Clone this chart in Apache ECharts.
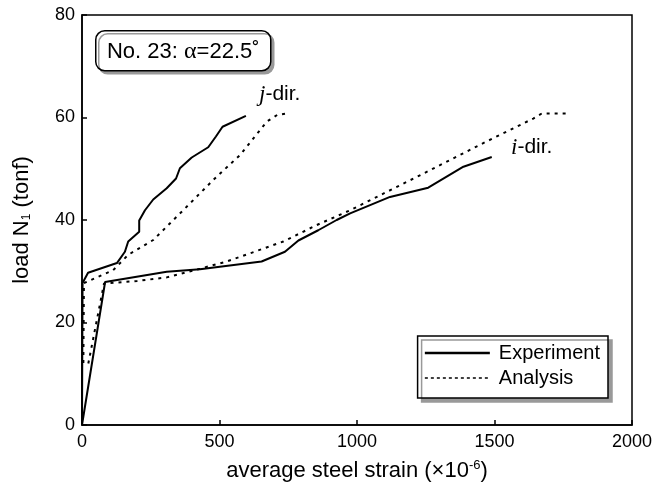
<!DOCTYPE html>
<html>
<head>
<meta charset="utf-8">
<script src="https://cdn.jsdelivr.net/npm/echarts@6/dist/echarts.min.js"></script>
<style>
  html, body { margin: 0; padding: 0; background: #fff; }
  #chart { width: 668px; height: 491px; }
</style>
</head>
<body>
<div id="chart"></div>
<script>
// Load vs. average steel strain, specimen No. 23 (alpha = 22.5 deg)
const xTicks = [0, 500, 1000, 1500, 2000];
const yTicks = [0, 20, 40, 60, 80];

// j-direction, experiment
const expJStrain = [0, 2, 22, 127, 156, 168, 208, 208, 229, 259, 308, 342, 356, 399, 459, 487, 511, 596];
const expJLoad   = [0, 27.7, 29.7, 31.6, 33.8, 35.8, 37.7, 39.9, 41.9, 44.0, 46.2, 48.1, 50.1, 52.2, 54.2, 56.3, 58.2, 60.3];

// j-direction, analysis
const anaJStrain = [5, 7, 113, 168, 259, 368, 477, 575, 672, 710, 745];
const anaJLoad   = [12.1, 27.7, 30.2, 33.2, 36.1, 41.9, 47.8, 52.7, 59.2, 60.5, 60.8];

// i-direction, experiment
const expIStrain = [0, 84, 308, 429, 653, 738, 787, 859, 926, 975, 1120, 1259, 1387, 1490];
const expILoad   = [0, 27.9, 29.9, 30.4, 31.9, 33.8, 36.0, 38.0, 40.0, 41.3, 44.5, 46.3, 50.4, 52.3];

// i-direction, analysis
const anaIStrain = [23, 80, 200, 308, 429, 526, 611, 732, 853, 975, 1217, 1459, 1641, 1672, 1770];
const anaILoad   = [12.0, 27.6, 28.1, 28.8, 30.5, 31.9, 33.5, 35.8, 39.0, 41.9, 48.4, 55.0, 59.8, 60.8, 60.8];

const pairs = (xs, ys) => xs.map((x, i) => [x, ys[i]]);

const FONT = 'Liberation Sans, Arial, Helvetica, sans-serif';
const SERIF = 'Liberation Serif, Times New Roman, serif';
const solidStyle = { color: '#000', width: 2, type: 'solid' };
const dotStyle = { color: '#000', width: 2, type: [3, 5] };

const chart = echarts.init(document.getElementById('chart'), null, { renderer: 'canvas' });

function lineSeries(name, xs, ys, style) {
  return {
    name: name,
    type: 'line',
    data: pairs(xs, ys),
    showSymbol: false,
    symbol: 'none',
    lineStyle: style,
    itemStyle: { color: '#000' },
    animation: false,
    z: 3
  };
}

chart.setOption({
  animation: false,
  backgroundColor: '#fff',
  grid: {
    left: 82, right: 36, top: 15, bottom: 66,
    show: true, borderColor: '#000', borderWidth: 1.5, backgroundColor: 'transparent'
  },
  xAxis: {
    type: 'value',
    min: xTicks[0], max: xTicks[xTicks.length - 1], interval: 500,
    name: 'average steel strain (×10{sup|-6})',
    nameLocation: 'middle', nameGap: 34,
    nameTextStyle: {
      fontFamily: FONT, fontSize: 22, color: '#000',
      rich: { sup: { fontFamily: FONT, fontSize: 13, color: '#000', verticalAlign: 'top', padding: [0, 0, 10, 0] } }
    },
    axisLine: { show: true, lineStyle: { color: '#000', width: 1.5 } },
    axisTick: { show: true, inside: true, length: 5, lineStyle: { color: '#000', width: 1.5 } },
    axisLabel: { fontFamily: FONT, fontSize: 18, color: '#000', margin: 8, formatter: v => String(v) },
    splitLine: { show: false }
  },
  yAxis: {
    type: 'value',
    min: yTicks[0], max: yTicks[yTicks.length - 1], interval: 20,
    name: 'load N{sub|1} (tonf)',
    nameLocation: 'middle', nameGap: 49, nameRotate: 90,
    nameTextStyle: {
      fontFamily: FONT, fontSize: 22, color: '#000',
      rich: { sub: { fontFamily: FONT, fontSize: 12, color: '#000', verticalAlign: 'bottom', padding: [8, 0, 0, 0] } }
    },
    axisLine: { show: true, lineStyle: { color: '#000', width: 1.5 } },
    axisTick: { show: true, inside: true, length: 5, lineStyle: { color: '#000', width: 1.5 } },
    axisLabel: { fontFamily: FONT, fontSize: 18, color: '#000', margin: 7, formatter: v => String(v) },
    splitLine: { show: false }
  },
  legend: {
    right: 60, top: 336,
    orient: 'vertical',
    data: [
      { name: 'Experiment', itemStyle: { opacity: 0 },
        lineStyle: { color: '#000', width: 2.5, type: 'solid', opacity: 1 } },
      { name: 'Analysis', itemStyle: { opacity: 0 },
        lineStyle: { color: '#000', width: 1.3, type: [3, 3], opacity: 1 } }
    ],
    itemWidth: 65, itemHeight: 14, itemGap: 5,
    padding: [7, 8, 10, 6],
    backgroundColor: '#fff',
    borderColor: '#000', borderWidth: 1.5, borderRadius: 0,
    shadowColor: '#999', shadowOffsetX: 4, shadowOffsetY: 4, shadowBlur: 0,
    textStyle: { fontFamily: FONT, fontSize: 20, lineHeight: 20, color: '#000', padding: [0, 0, 0, 4] },
    selectedMode: false
  },
  graphic: [
    {
      type: 'group', left: 95, top: 30, z: 10,
      children: [
        {
          type: 'rect',
          shape: { x: 0, y: 0, width: 175, height: 40, r: 9 },
          style: { fill: '#fff', stroke: '#000', lineWidth: 1.5,
                   shadowColor: '#999', shadowOffsetX: 3, shadowOffsetY: 3, shadowBlur: 0 }
        },
        {
          type: 'text',
          x: 87.5, y: 21,
          style: {
            text: 'No. 23: {gr|α}=22.5˚',
            fontFamily: FONT, fontSize: 22, fill: '#000',
            align: 'center', verticalAlign: 'middle',
            rich: { gr: { fontFamily: SERIF, fontSize: 24 } }
          }
        }
      ]
    },
    {
      type: 'text', left: 259, top: 83, z: 10,
      style: {
        text: '{it|j}-dir.',
        fontFamily: FONT, fontSize: 21, fill: '#000',
        rich: { it: { fontFamily: SERIF, fontStyle: 'italic', fontSize: 23 } }
      }
    },
    {
      type: 'text', left: 511, top: 136, z: 10,
      style: {
        text: '{it|i}-dir.',
        fontFamily: FONT, fontSize: 21, fill: '#000',
        rich: { it: { fontFamily: SERIF, fontStyle: 'italic', fontSize: 23 } }
      }
    }
  ],
  series: [
    lineSeries('Experiment', expJStrain, expJLoad, solidStyle),
    lineSeries('Experiment', expIStrain, expILoad, solidStyle),
    lineSeries('Analysis', anaJStrain, anaJLoad, dotStyle),
    lineSeries('Analysis', anaIStrain, anaILoad, dotStyle)
  ]
});
</script>
</body>
</html>
